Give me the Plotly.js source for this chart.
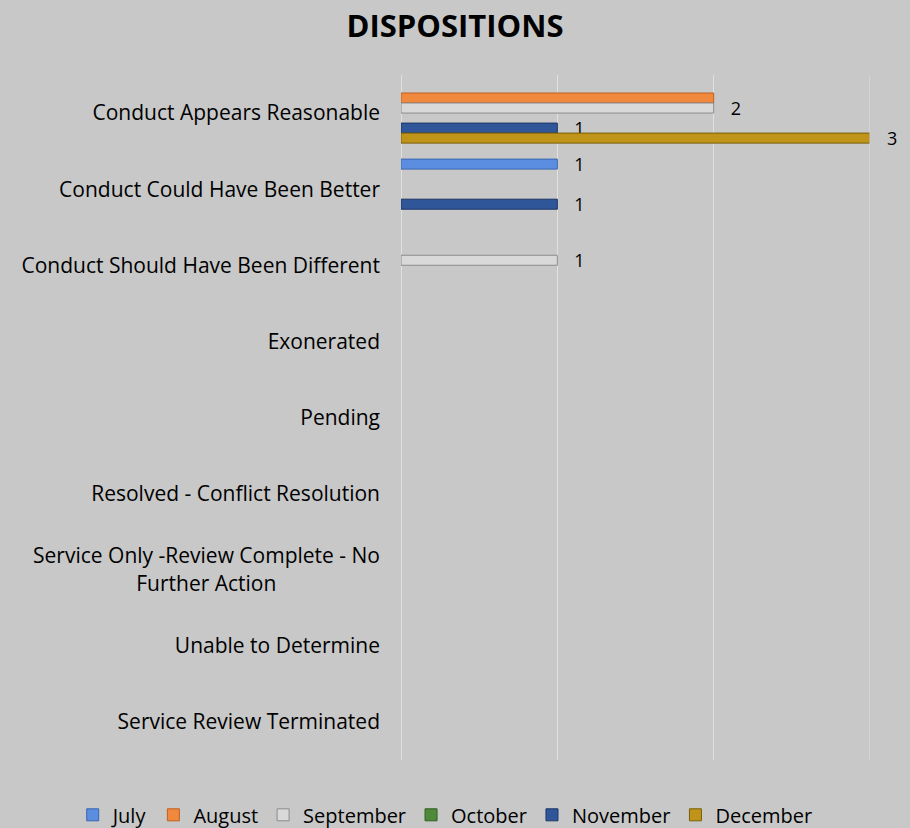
<!DOCTYPE html>
<html><head><meta charset="utf-8">
<script src="https://cdn.plot.ly/plotly-3.0.1.min.js"></script>
<style>html,body{margin:0;padding:0;background:#c8c8c8;}</style>
</head><body><div id="chart" style="width:910px;height:828px;"></div>
<script>
const NB = '\u00a0';
const categories = ["Conduct Appears Reasonable","Conduct Could Have Been Better","Conduct Should Have Been Different","Exonerated","Pending","Resolved - Conflict Resolution","Service Only -Review Complete - No<br>Further Action" + NB.repeat(19),"Unable to Determine","Service Review Terminated"];
const months = ["July","August","September","October","November","December"];
const july      = [null, 1, null, null, null, null, null, null, null];
const august    = [2, null, null, null, null, null, null, null, null];
const september = [2, null, 1, null, null, null, null, null, null];
const october   = [null, null, null, null, null, null, null, null, null];
const november  = [1, 1, null, null, null, null, null, null, null];
const december  = [3, null, null, null, null, null, null, null, null];
const series = [july, august, september, october, november, december];
const fills = ["#5b8ee0","#f0883e","#d9d9d9","#4e8a3a","#30569a","#c09418"];
const edges = ["#3a66b0","#c0601e","#8c8c8c","#2f5e22","#1c3566","#7a5e08"];
const showLabel = [true, false, true, true, true, true];
const FONT = 'Open Sans, sans-serif';

const traces = series.map((vals, i) => ({
  type: 'bar', orientation: 'h', name: months[i],
  y: categories, x: vals,
  marker: {color: fills[i], line: {color: edges[i], width: 1}},
  text: vals.map(v => (v === null || !showLabel[i]) ? '' : '   ' + v),
  textposition: 'outside', constraintext: 'none', cliponaxis: false,
  textfont: {family: FONT, size: 18, color: '#000'},
  hoverinfo: 'x+name'
}));

const layout = {
  width: 910, height: 828,
  paper_bgcolor: '#c8c8c8', plot_bgcolor: '#c8c8c8',
  margin: {l: 401, r: 40, t: 75, b: 68, autoexpand: false},
  title: {text: '<b>DISPOSITIONS</b>', x: 0.5, xanchor: 'center', y: 0.968, yanchor: 'middle',
          font: {family: FONT, size: 31, color: '#000'}},
  barmode: 'group', bargap: 0.21, bargroupgap: 0,
  xaxis: {range: [0, 3], dtick: 1, showticklabels: false, showgrid: true, gridcolor: '#e0e0e0', gridwidth: 1,
          zeroline: true, zerolinecolor: '#e0e0e0', zerolinewidth: 1, fixedrange: true},
  yaxis: {type: 'category', autorange: 'reversed', showgrid: false, zeroline: false, ticks: '', ticklabelstandoff: 20,
          tickfont: {family: FONT, size: 21, color: '#000'}},
  shapes: [{type: 'line', xref: 'x', yref: 'paper', x0: 3, x1: 3, y0: 0, y1: 1, line: {color: '#e0e0e0', width: 1}}],
  showlegend: true,
  legend: {orientation: 'h', x: -0.70, xanchor: 'left', xref: 'paper', y: -0.08, yref: 'paper', yanchor: 'middle',
           font: {family: FONT, size: 20, color: '#000'}, traceorder: 'normal',
           itemwidth: 30, bgcolor: 'rgba(0,0,0,0)'},
  font: {family: FONT}
};
Plotly.newPlot('chart', traces, layout, {displayModeBar: false, staticPlot: true});
</script></body></html>
